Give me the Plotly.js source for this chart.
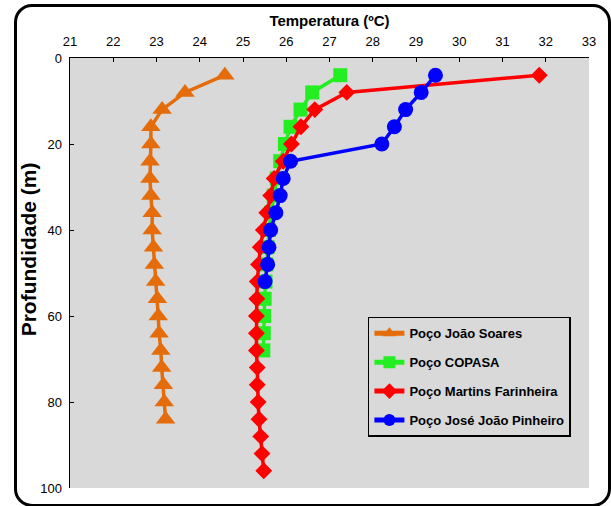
<!DOCTYPE html>
<html>
<head>
<meta charset="utf-8">
<script src="https://cdn.plot.ly/plotly-3.0.1.min.js"></script>
<style>
  html, body { margin: 0; padding: 0; background: #fff; }
  #wrap { position: relative; width: 611px; height: 506px; overflow: hidden; }
  #chart { position: absolute; left: 0; top: 0; width: 611px; height: 506px; }
  #frame { position: absolute; left: 14px; top: 4px; width: 597px; height: 503px; box-sizing: border-box;
           border: 3px solid #000; border-radius: 18px; pointer-events: none; }
</style>
</head>
<body>
<div id="wrap">
  <div id="chart"></div>
  <div id="frame"></div>
</div>
<script>
// Series names
const seriesNames = ["Poço João Soares", "Poço COPASA", "Poço Martins Farinheira", "Poço José João Pinheiro"];

// Depth (m) for each well
const joaoDepth = [4, 8, 12, 16, 20, 24, 28, 32, 36, 40, 44, 48, 52, 56, 60, 64, 68, 72, 76, 80, 84];
const copasaDepth = [4, 8, 12, 16, 20, 24, 28, 32, 36, 40, 44, 48, 52, 56, 60, 64, 68];
const martinsDepth = [4, 8, 12, 16, 20, 24, 28, 32, 36, 40, 44, 48, 52, 56, 60, 64, 68, 72, 76, 80, 84, 88, 92, 96];
const pinheiroDepth = [4, 8, 12, 16, 20, 24, 28, 32, 36, 40, 44, 48, 52];

// Temperature (ºC) for each well
const joaoTemp = [24.58, 23.66, 23.13, 22.87, 22.87, 22.85, 22.85, 22.87, 22.90, 22.90, 22.93, 22.95, 22.98, 23.02, 23.04, 23.06, 23.10, 23.12, 23.16, 23.18, 23.21];
const copasaTemp = [27.25, 26.60, 26.33, 26.10, 25.97, 25.86, 25.78, 25.71, 25.65, 25.60, 25.57, 25.54, 25.52, 25.50, 25.49, 25.48, 25.47];
const martinsTemp = [31.85, 27.40, 26.66, 26.34, 26.12, 25.93, 25.72, 25.64, 25.55, 25.47, 25.40, 25.36, 25.33, 25.32, 25.31, 25.31, 25.31, 25.33, 25.33, 25.35, 25.37, 25.41, 25.44, 25.48];
const pinheiroTemp = [29.45, 29.12, 28.76, 28.50, 28.21, 26.10, 25.93, 25.86, 25.76, 25.64, 25.60, 25.57, 25.51];

// Axis ticks and titles
const xTicks = [21, 22, 23, 24, 25, 26, 27, 28, 29, 30, 31, 32, 33];
const yTicks = [0, 20, 40, 60, 80, 100];
const xTitle = "Temperatura (ºC)";
const yTitle = "Profundidade (m)";

const SANS = "'Liberation Sans', Arial, sans-serif";

function tr(name, x, y, color, symbol, size, group) {
  return {
    type: "scatter", mode: "lines+markers", name: "<b>" + name + "</b>",
    x: x, y: y, legendgroup: group,
    line: { color: color, width: 3.5 },
    marker: { color: color, symbol: symbol, size: size, line: { width: 0 } }
  };
}

const data = [
  tr(seriesNames[0], joaoTemp, joaoDepth, "#E46C0A", "triangle-up", 17, "a"),
  tr(seriesNames[1], copasaTemp, copasaDepth, "#22EE22", "square", 14, "b"),
  tr(seriesNames[2], martinsTemp, martinsDepth, "#FF0000", "diamond", 13, "c"),
  tr(seriesNames[3], pinheiroTemp, pinheiroDepth, "#0000FF", "circle", 15, "d")
];

const layout = {
  width: 611, height: 506,
  margin: { l: 70, r: 22, t: 58, b: 18 },
  paper_bgcolor: "rgba(0,0,0,0)",
  plot_bgcolor: "#D9D9D9",
  font: { family: SANS, color: "#000" },
  showlegend: true,
  legend: {
    x: 0.574, y: 0.398, xanchor: "left", yanchor: "top",
    bgcolor: "#D9D9D9", bordercolor: "#000", borderwidth: 1.5,
    font: { family: SANS, size: 13, color: "#000" },
    traceorder: "grouped", tracegroupgap: 9, itemwidth: 30, itemsizing: "constant"
  },
  xaxis: {
    side: "top", range: [21, 33], tickvals: xTicks, ticktext: xTicks.map(String),
    ticks: "inside", ticklen: 4, tickcolor: "#000", tickwidth: 1,
    showline: true, linecolor: "#000", linewidth: 1.5,
    showgrid: false, zeroline: false, ticklabelstandoff: 5,
    tickfont: { family: SANS, size: 13, color: "#000" },
    title: { text: "<b>" + xTitle + "</b>", font: { family: SANS, size: 15, color: "#000" }, standoff: 4 }
  },
  yaxis: {
    range: [100, 0], tickvals: yTicks, ticktext: yTicks.map(String),
    ticks: "inside", ticklen: 4, tickcolor: "#000", tickwidth: 1,
    showline: true, linecolor: "#000", linewidth: 1.5,
    showgrid: false, zeroline: false, ticklabelstandoff: 4,
    tickfont: { family: SANS, size: 13, color: "#000" }
  },
  annotations: [{
    text: "<b>" + yTitle + "</b>", textangle: -90, showarrow: false,
    xref: "paper", yref: "paper", x: -0.081, y: 0.555, xanchor: "center", yanchor: "middle",
    font: { family: SANS, size: 21, color: "#000" }
  }]
};

Plotly.newPlot("chart", data, layout, { staticPlot: true, displayModeBar: false });
</script>
</body>
</html>
